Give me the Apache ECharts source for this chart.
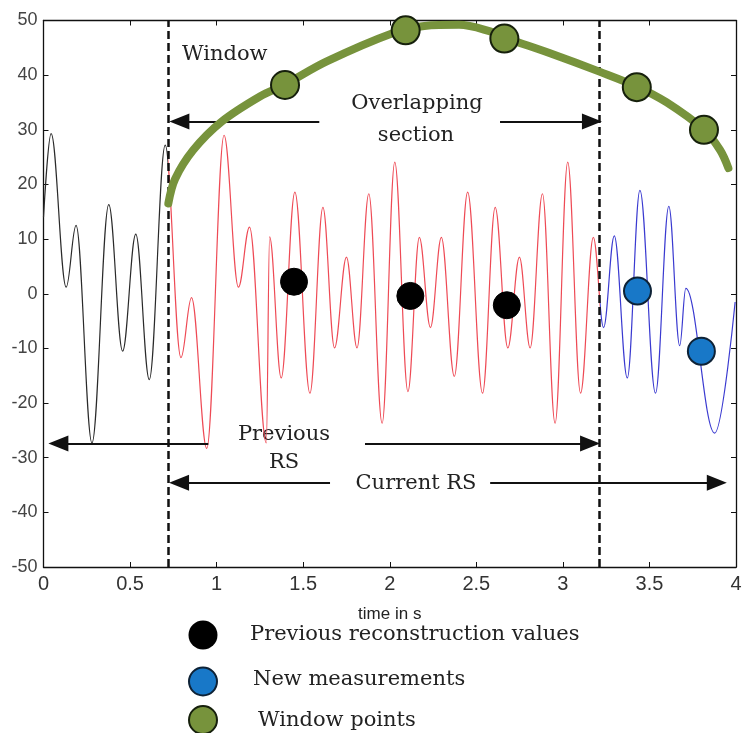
<!DOCTYPE html>
<html><head><meta charset="utf-8">
<script src="https://cdn.jsdelivr.net/npm/echarts@6/dist/echarts.min.js"></script>
<style>html,body{margin:0;padding:0;background:#fff}#c{width:745px;height:733px}</style>
</head><body><div id="c"></div>
<script>
// ---- data ----
// signal extrema (time in s, value)
const signalT = [0, 0.044, 0.131, 0.188, 0.28, 0.377, 0.457, 0.533, 0.611, 0.703,
  0.794, 0.855, 0.943, 1.043, 1.126, 1.19, 1.287, 1.306, 1.373, 1.452, 1.539, 1.614, 1.681, 1.75, 1.811,
  1.879, 1.956, 2.029, 2.105, 2.171, 2.235, 2.298, 2.373, 2.45, 2.536, 2.609, 2.682, 2.749, 2.811,
  2.882, 2.955, 3.028, 3.102, 3.176, 3.235,
  3.297, 3.372, 3.445, 3.535, 3.612, 3.675, 3.71, 3.877, 3.995];
const signalV = [14, 29.3, 1.2, 12.5, -27.3, 16.3, -10.5, 10.9, -15.7, 27.2,
  -11.7, -0.7, -28.3, 29.0, 1.2, 12.2, -27.3, 10.4, -15.4, 18.6, -18.2, 15.8, -9.9, 6.7, -9.9,
  18.3, -23.7, 24.1, -17.9, 10.3, -6.2, 10.3, -15.1, 18.6, -18.2, 15.8, -9.9, 6.7, -9.9,
  18.3, -23.7, 24.1, -18.2, 10.3, -6.2,
  10.6, -15.4, 18.9, -18.2, 16.0, -9.5, 1.0, -25.5, -1.5];
const previousRSEnd = 0.721;   // window start / end of old samples
const currentStart = 3.215;    // start of new measurements
// markers
const prevRecT = [1.447, 2.119, 2.676];
const prevRecV = [2.2, -0.4, -2.1];
const newMeasT = [3.431, 3.80];
const newMeasV = [0.5, -10.5];
const windowPtT = [1.395, 2.092, 2.662, 3.427, 3.815];
const windowPtV = [38.2, 48.2, 46.7, 37.8, 30.0];
// window curve
const windowT = [0.721, 0.76, 0.865, 1.029, 1.25, 1.395, 1.636, 2.02, 2.2, 2.4, 2.58, 2.662, 2.926, 3.215, 3.427, 3.6, 3.815, 3.908, 3.956];
const windowV = [16.5, 21, 26.3, 31.5, 36.1, 38.3, 42.5, 47.7, 49.0, 49.2, 48.0, 46.9, 44, 40.6, 37.9, 35, 30, 26.3, 23];
// annotation arrows (value levels)
const overlapArrowV = 31.5;
const prevRSArrowV = -27.4;
const curRSArrowV = -34.6;

const pairs = (ts, vs) => ts.map((t, i) => [t, vs[i]]);
const SERIF = "'DejaVu Serif', 'Liberation Serif', serif";
const SANS = "'Liberation Sans Narrow', 'Liberation Sans', Arial, sans-serif";
const TXT = '#222';

const arrowHead = {symbol: 'triangle', symbolSize: [16, 20]};
function arrow(t0, t1, v, headStart, headEnd) {
  return [
    Object.assign({coord: [t0, v]}, headStart ? arrowHead : {symbol: 'none'}),
    Object.assign({coord: [t1, v]}, headEnd ? arrowHead : {symbol: 'none'})
  ];
}

const chart = echarts.init(document.getElementById('c'), null, {renderer: 'canvas'});
const axisCommon = {
  type: 'value',
  axisLine: {show: true, onZero: false, lineStyle: {color: '#111', width: 1.3}},
  axisTick: {show: true, inside: true, length: 5, lineStyle: {color: '#111', width: 1}},
  splitLine: {show: false}
};
const option = {
  animation: false,
  backgroundColor: '#fff',
  grid: {left: 43.5, right: 9, top: 20.5, bottom: 166},
  xAxis: [
    Object.assign({}, axisCommon, {
      min: 0, max: 4, interval: 0.5, position: 'bottom',
      axisLabel: {color: '#333', fontSize: 20, fontFamily: SANS, margin: 7},
      name: 'time in s', nameLocation: 'middle', nameGap: 39,
      nameTextStyle: {color: '#222', fontSize: 17, fontFamily: SANS}
    }),
    Object.assign({}, axisCommon, {
      min: 0, max: 4, interval: 0.5, position: 'top', axisLabel: {show: false}
    })
  ],
  yAxis: [
    Object.assign({}, axisCommon, {
      min: -50, max: 50, interval: 10, position: 'left',
      axisLabel: {color: '#444', fontSize: 18, fontFamily: SANS, margin: 6}
    }),
    Object.assign({}, axisCommon, {
      min: -50, max: 50, interval: 10, position: 'right', axisLabel: {show: false}
    })
  ],
  visualMap: {
    type: 'piecewise', show: false, dimension: 0, seriesIndex: 0,
    pieces: [
      {lt: previousRSEnd, color: '#2a2a2a'},
      {gte: previousRSEnd, lt: currentStart, color: '#ee4a55'},
      {gte: currentStart, color: '#3a3ad0'}
    ]
  },
  series: [
    {
      name: 'signal', type: 'line', data: pairs(signalT, signalV),
      showSymbol: false, smooth: 0.37, smoothMonotone: 'x',
      lineStyle: {width: 1.2}, z: 2, silent: true
    },
    {
      name: 'guides', type: 'line', data: [], z: 4, silent: true,
      markLine: {
        silent: true, symbol: 'none', animation: false,
        label: {show: false},
        lineStyle: {color: '#111', type: [8, 4], width: 2.5},
        data: [{xAxis: previousRSEnd}, {xAxis: currentStart}]
      }
    },
    {
      name: 'arrows', type: 'line', data: [], z: 4, silent: true,
      markLine: {
        silent: true, animation: false,
        label: {show: false},
        lineStyle: {color: '#111', type: 'solid', width: 2},
        itemStyle: {color: '#111'},
        data: [
          arrow(0.785, 1.593, overlapArrowV, true, false),
          arrow(2.637, 3.168, overlapArrowV, false, true),
          arrow(0.086, 0.952, prevRSArrowV, true, false),
          arrow(1.857, 3.157, prevRSArrowV, false, true),
          arrow(0.783, 1.655, curRSArrowV, true, false),
          arrow(2.58, 3.889, curRSArrowV, false, true)
        ]
      }
    },
    {
      name: 'window', type: 'line', data: pairs(windowT, windowV),
      showSymbol: false, smooth: 0.35,
      lineStyle: {color: '#77933c', width: 8, cap: 'round'}, z: 5, silent: true
    },
    {
      name: 'Previous reconstruction values', type: 'scatter', data: pairs(prevRecT, prevRecV),
      symbolSize: 27, itemStyle: {color: '#000', borderColor: '#000', borderWidth: 1, opacity: 1}, z: 6, silent: true
    },
    {
      name: 'New measurements', type: 'scatter', data: pairs(newMeasT, newMeasV),
      symbolSize: 27, itemStyle: {color: '#1878c8', borderColor: '#0e2236', borderWidth: 2, opacity: 1}, z: 6, silent: true
    },
    {
      name: 'Window points', type: 'scatter', data: pairs(windowPtT, windowPtV),
      symbolSize: 28, itemStyle: {color: '#77933c', borderColor: '#16200c', borderWidth: 2, opacity: 1}, z: 6, silent: true
    }
  ],
  graphic: [
    {type: 'text', x: 182, y: 55, style: {text: 'Window', font: '21px ' + SERIF, fill: TXT, align: 'left', verticalAlign: 'middle'}},
    {type: 'text', x: 417, y: 104, style: {text: 'Overlapping', font: '21px ' + SERIF, fill: TXT, align: 'center', verticalAlign: 'middle'}},
    {type: 'text', x: 416, y: 135.5, style: {text: 'section', font: '21px ' + SERIF, fill: TXT, align: 'center', verticalAlign: 'middle'}},
    {type: 'text', x: 284, y: 434.5, style: {text: 'Previous', font: '21px ' + SERIF, fill: TXT, align: 'center', verticalAlign: 'middle'}},
    {type: 'text', x: 284, y: 463, style: {text: 'RS', font: '21px ' + SERIF, fill: TXT, align: 'center', verticalAlign: 'middle'}},
    {type: 'text', x: 416, y: 484, style: {text: 'Current RS', font: '21px ' + SERIF, fill: TXT, align: 'center', verticalAlign: 'middle'}},
    {type: 'circle', shape: {cx: 203, cy: 635, r: 14.5}, style: {fill: '#000'}},
    {type: 'circle', shape: {cx: 203, cy: 681.5, r: 14}, style: {fill: '#1878c8', stroke: '#0e2236', lineWidth: 2}},
    {type: 'circle', shape: {cx: 203, cy: 720, r: 14}, style: {fill: '#77933c', stroke: '#16200c', lineWidth: 2}},
    {type: 'text', x: 250, y: 634.5, style: {text: 'Previous reconstruction values', font: '21px ' + SERIF, fill: TXT, align: 'left', verticalAlign: 'middle'}},
    {type: 'text', x: 253, y: 679.5, style: {text: 'New measurements', font: '21px ' + SERIF, fill: TXT, align: 'left', verticalAlign: 'middle'}},
    {type: 'text', x: 258, y: 721, style: {text: 'Window points', font: '21px ' + SERIF, fill: TXT, align: 'left', verticalAlign: 'middle'}}
  ]
};
chart.setOption(option);
</script>
</body></html>
